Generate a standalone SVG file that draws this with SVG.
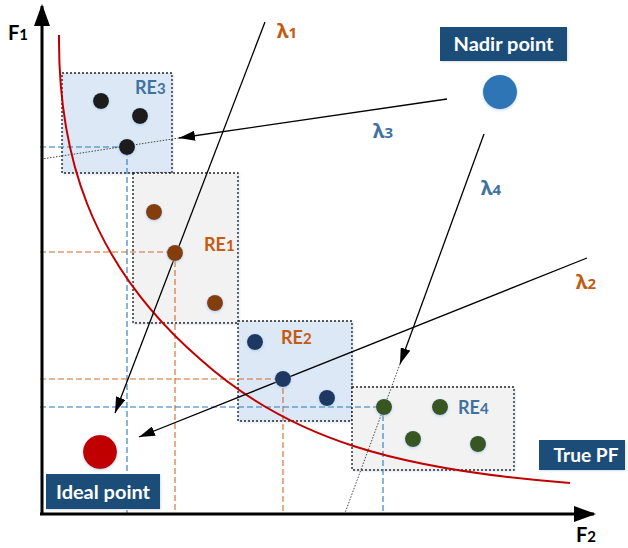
<svg xmlns="http://www.w3.org/2000/svg" width="628" height="548" viewBox="0 0 628 548">
  <defs>
    <style>
      text { font-family: Lato, "Noto Sans", "DejaVu Sans", sans-serif; font-weight: bold; }
      .axis { stroke: #000; stroke-width: 3; fill: none; }
      .region { stroke: #222; stroke-width: 1.4; stroke-dasharray: 2 2; }
      .blueFill { fill: #DCE8F5; }
      .greyFill { fill: #F2F2F2; }
      .guideBlue { stroke: #2A78C0; stroke-width: 1.1; stroke-dasharray: 6 3; fill: none; }
      .guideOrange { stroke: #D26A2A; stroke-width: 1.1; stroke-dasharray: 6 3; fill: none; }
      .dir { stroke: #000; stroke-width: 1.3; fill: none; }
      .ext { stroke: #333; stroke-width: 0.9; stroke-dasharray: 1.5 1.5; fill: none; }
      .pf { stroke: #C00000; stroke-width: 2; fill: none; }
      .tag { fill: #1F4E79; }
      .tagText { fill: #fff; font-size: 18px; text-anchor: middle; }
      .lblBlue { fill: #41729F; font-size: 18px; }
      .lblOrange { fill: #C55A11; font-size: 18px; }
      text.greek { font-family: "Noto Sans", "DejaVu Sans", sans-serif; font-weight: bold; font-size: 20px; }
      .sub { font-size: 15px; }
    </style>
    <filter id="glow" x="-50%" y="-50%" width="200%" height="200%">
      <feDropShadow dx="0" dy="1" stdDeviation="1.5" flood-color="#9DC3E6" flood-opacity="0.7"/>
    </filter>
    <filter id="soft" x="-10%" y="-10%" width="120%" height="120%">
      <feDropShadow dx="1" dy="1" stdDeviation="1.2" flood-color="#9DB3CC" flood-opacity="0.4"/>
    </filter>
    <marker id="head" viewBox="0 0 16 10" refX="16" refY="5" markerWidth="16" markerHeight="10" markerUnits="userSpaceOnUse" orient="auto">
      <path d="M0,0 L16,5 L0,10 Z" fill="#000"/>
    </marker>
    <marker id="axisHead" viewBox="0 0 22 16" refX="20" refY="8" markerWidth="22" markerHeight="16" markerUnits="userSpaceOnUse" orient="auto">
      <path d="M0,0 L22,8 L0,16 Z" fill="#000"/>
    </marker>
  </defs>

  <rect width="628" height="548" fill="#fff"/>

  <!-- region boxes -->
  <g id="RE3" filter="url(#soft)">
    <rect class="region blueFill" x="62" y="73" width="110" height="100"/>
  </g>
  <g id="RE1" filter="url(#soft)">
    <rect class="region greyFill" x="133" y="173" width="105" height="150"/>
  </g>
  <g id="RE2" filter="url(#soft)">
    <rect class="region blueFill" x="238" y="321" width="114" height="100"/>
  </g>
  <g id="RE4" filter="url(#soft)">
    <rect class="region greyFill" x="352" y="387" width="162" height="83"/>
  </g>

  <!-- projection guides -->
  <g id="guides">
    <path class="guideBlue" d="M40,147 H127 V513"/>
    <path class="guideOrange" d="M40,252 H175 V513"/>
    <path class="guideOrange" d="M40,379 H283 V513"/>
    <path class="guideBlue" d="M40,407 H383 V513"/>
  </g>

  <!-- true Pareto front -->
  <g id="truePF">
    <path class="pf" d="M59,35 C58,150 88,262 200,359 C290,440 400,470 570,483"/>
  </g>

  <!-- axes -->
  <g id="axes">
    <path class="axis" d="M42,514 V6" marker-end="url(#axisHead)"/>
    <path class="axis" d="M40,514 H594" marker-end="url(#axisHead)"/>
    <text x="8" y="40" font-size="20">F<tspan class="sub">1</tspan></text>
    <text x="576" y="542" font-size="20">F<tspan class="sub">2</tspan></text>
  </g>

  <!-- weight vectors -->
  <g id="connectors">
    <line class="dir" x1="265" y1="22" x2="115" y2="413" marker-end="url(#head)"/>
    <line class="dir" x1="587" y1="258" x2="139" y2="437" marker-end="url(#head)"/>
    <line class="dir" x1="447" y1="99" x2="179" y2="138" marker-end="url(#head)"/>
    <line class="ext" x1="179" y1="138" x2="42" y2="159"/>
    <line class="dir" x1="484" y1="134" x2="400" y2="364" marker-end="url(#head)"/>
    <line class="ext" x1="400" y1="364" x2="345" y2="513"/>
  </g>

  <!-- solutions -->
  <g id="RE3-points" fill="#1A1A1A" filter="url(#glow)">
    <circle cx="101" cy="101" r="8"/>
    <circle cx="140" cy="116" r="8"/>
    <circle cx="127" cy="147" r="8"/>
  </g>
  <g id="RE1-points" fill="#843C0C" filter="url(#glow)">
    <circle cx="154" cy="212" r="8"/>
    <circle cx="175" cy="253" r="8"/>
    <circle cx="215" cy="303" r="8"/>
  </g>
  <g id="RE2-points" fill="#1F3864" filter="url(#glow)">
    <circle cx="255" cy="342" r="8"/>
    <circle cx="283" cy="379" r="8"/>
    <circle cx="327" cy="398" r="8"/>
  </g>
  <g id="RE4-points" fill="#375623" filter="url(#glow)">
    <circle cx="384" cy="407" r="8"/>
    <circle cx="440" cy="407" r="8"/>
    <circle cx="413" cy="439" r="8"/>
    <circle cx="478" cy="444" r="8"/>
  </g>

  <!-- region labels -->
  <g id="region-labels">
    <text class="lblBlue" x="135" y="94">RE<tspan class="sub">3</tspan></text>
    <text class="lblOrange" x="204" y="251">RE<tspan class="sub">1</tspan></text>
    <text class="lblOrange" x="281" y="344">RE<tspan class="sub">2</tspan></text>
    <text class="lblBlue" x="458" y="414">RE<tspan class="sub">4</tspan></text>
  </g>

  <!-- weight labels -->
  <g id="weight-labels">
    <text class="lblOrange greek" x="277" y="38">λ<tspan class="sub">1</tspan></text>
    <text class="lblOrange greek" x="576" y="289">λ<tspan class="sub">2</tspan></text>
    <text class="lblBlue greek" x="373" y="138">λ<tspan class="sub">3</tspan></text>
    <text class="lblBlue greek" x="481" y="195">λ<tspan class="sub">4</tspan></text>
  </g>

  <!-- reference points -->
  <g id="nadir">
    <rect class="tag" x="440" y="27" width="127" height="34" filter="url(#soft)"/>
    <text class="tagText" x="503.5" y="51" textLength="100" lengthAdjust="spacingAndGlyphs">Nadir point</text>
    <circle cx="500" cy="92" r="17" fill="#2E75B6" filter="url(#glow)"/>
  </g>
  <g id="ideal">
    <circle cx="100" cy="452" r="17" fill="#C00000" filter="url(#glow)"/>
    <rect class="tag" x="46" y="474" width="114" height="35" filter="url(#soft)"/>
    <text class="tagText" x="103" y="499" textLength="94" lengthAdjust="spacingAndGlyphs">Ideal point</text>
  </g>
  <g id="true-pf-label">
    <rect class="tag" x="539" y="440" width="86" height="30" filter="url(#soft)"/>
    <text class="tagText" x="586" y="462" textLength="65" lengthAdjust="spacingAndGlyphs">True PF</text>
  </g>
</svg>
